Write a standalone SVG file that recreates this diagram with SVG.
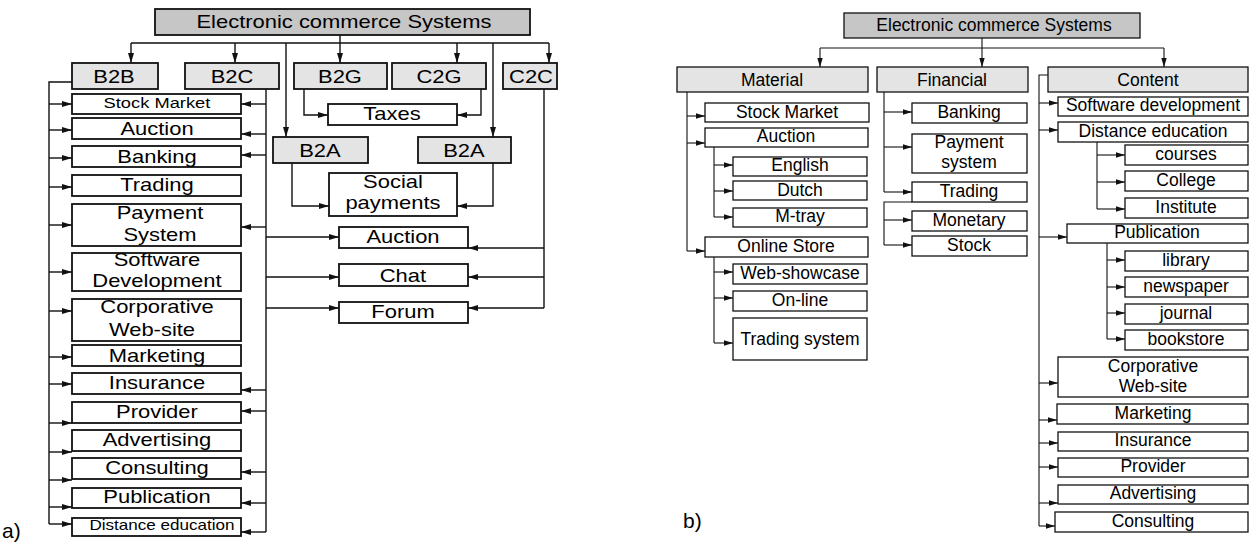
<svg xmlns="http://www.w3.org/2000/svg" width="1252" height="544" viewBox="0 0 1252 544">
<style>
text{font-family:"Liberation Sans",Arial,sans-serif;fill:#000}
.A rect{stroke:#111;stroke-width:1.8}
.A text{font-size:18px;text-anchor:middle;transform-box:fill-box;transform-origin:center;transform:scaleX(1.22)}
.B rect{stroke:#111;stroke-width:1.3}
.B text{font-size:17.5px;text-anchor:middle}
.w{fill:#fff}
.h{fill:#e4e4e4}
.t{fill:#c6c6c6}
.ln path{fill:none;stroke:#111;stroke-width:1.4}
.lr path{fill:none;stroke:#111;stroke-width:1.1}
.ln .m{marker-end:url(#ah)}
.lr .m{marker-end:url(#as)}
.lab{font-size:21px}
</style>
<defs>
<marker id="ah" markerWidth="10" markerHeight="6" refX="10" refY="3" orient="auto" markerUnits="userSpaceOnUse"><path d="M0,0 L10,3 L0,6 z" fill="#111"/></marker>
<marker id="as" markerWidth="9" markerHeight="6" refX="9" refY="3" orient="auto" markerUnits="userSpaceOnUse"><path d="M0,0.3 L9,3 L0,5.7 z" fill="#111"/></marker>
</defs>
<rect width="1252" height="544" fill="#fff"/>

<!-- ===== Diagram a) ===== -->
<g class="ln" id="a-connectors">
<path d="M340,35 V43 M131,43 H549"/>
<path class="m" d="M131,43 V63"/><path class="m" d="M235,43 V63"/><path class="m" d="M340,43 V63"/><path class="m" d="M457,43 V63"/><path class="m" d="M549,43 V63"/>
<path class="m" d="M286,43 V137"/><path class="m" d="M493,43 V137"/>
<path d="M72,82 H49 V524"/>
<path d="M266,89 V532"/>
<path class="m" d="M304,89 V115 H328"/><path class="m" d="M481,89 V115 H457"/>
<path class="m" d="M292,163 V206 H329"/><path class="m" d="M493,163 V206 H457"/>
<path d="M544,89 V308"/>
<path class="m" d="M266,237 H339"/><path class="m" d="M266,277 H339"/><path class="m" d="M266,308 H339"/>
<path class="m" d="M544,248 H468"/><path class="m" d="M544,277 H468"/><path class="m" d="M544,308 H468"/>
<path class="m" d="M49,104 H72"/><path class="m" d="M49,130 H72"/><path class="m" d="M49,158 H72"/><path class="m" d="M49,187 H72"/><path class="m" d="M49,225 H72"/><path class="m" d="M49,272 H72"/><path class="m" d="M49,311 H72"/><path class="m" d="M49,357 H72"/><path class="m" d="M49,384 H72"/><path class="m" d="M49,423 H72"/><path class="m" d="M49,452 H72"/><path class="m" d="M49,480 H72"/><path class="m" d="M49,507 H72"/><path class="m" d="M49,524 H72"/>
<path class="m" d="M266,104 H241"/><path class="m" d="M266,134 H241"/><path class="m" d="M266,155 H241"/><path class="m" d="M266,227 H241"/><path class="m" d="M266,390 H241"/><path class="m" d="M266,411 H241"/><path class="m" d="M266,472 H241"/><path class="m" d="M266,503 H241"/><path class="m" d="M266,532 H241"/>
</g>
<g class="A">
<g id="a-root"><rect class="t" x="155" y="9" width="375" height="26"/><text x="344" y="28">Electronic commerce Systems</text></g>
<g id="a-b2b"><rect class="h" x="72" y="63" width="86" height="26"/><text x="114" y="83">B2B</text></g>
<g id="a-b2c"><rect class="h" x="185" y="63" width="94" height="26"/><text x="232" y="83">B2C</text></g>
<g id="a-b2g"><rect class="h" x="294" y="63" width="93" height="26"/><text x="340" y="83">B2G</text></g>
<g id="a-c2g"><rect class="h" x="392" y="63" width="94" height="26"/><text x="439" y="83">C2G</text></g>
<g id="a-c2c"><rect class="h" x="503" y="63" width="54" height="26"/><text x="531" y="83">C2C</text></g>
<g id="a-b2a1"><rect class="h" x="273" y="137" width="95" height="26"/><text x="320" y="157">B2A</text></g>
<g id="a-b2a2"><rect class="h" x="418" y="137" width="93" height="26"/><text x="464" y="157">B2A</text></g>
<g id="a-taxes"><rect class="w" x="328" y="104" width="129" height="21"/><text x="392" y="120">Taxes</text></g>
<g id="a-social"><rect class="w" x="329" y="173" width="128" height="43"/><text x="393" y="188">Social</text><text x="393" y="209">payments</text></g>
<g id="a-auction2"><rect class="w" x="339" y="227" width="129" height="21"/><text x="403" y="243">Auction</text></g>
<g id="a-chat"><rect class="w" x="339" y="264" width="129" height="22"/><text x="403" y="282">Chat</text></g>
<g id="a-forum"><rect class="w" x="339" y="302" width="129" height="21"/><text x="403" y="318">Forum</text></g>
<g id="a-stock"><rect class="w" x="72" y="94" width="169" height="20"/><text x="157" y="108" style="font-size:15px">Stock Market</text></g>
<g id="a-auction"><rect class="w" x="72" y="118" width="169" height="21"/><text x="157" y="135">Auction</text></g>
<g id="a-banking"><rect class="w" x="72" y="146" width="169" height="21"/><text x="157" y="163">Banking</text></g>
<g id="a-trading"><rect class="w" x="72" y="175" width="169" height="21"/><text x="157" y="191">Trading</text></g>
<g id="a-payment"><rect class="w" x="72" y="204" width="169" height="42"/><text x="160" y="219">Payment</text><text x="160" y="241">System</text></g>
<g id="a-software"><rect class="w" x="72" y="253" width="169" height="38"/><text x="157" y="266">Software</text><text x="157" y="287">Development</text></g>
<g id="a-corp"><rect class="w" x="72" y="299" width="169" height="42"/><text x="157" y="313">Corporative</text><text x="152" y="336">Web-site</text></g>
<g id="a-marketing"><rect class="w" x="72" y="345" width="169" height="21"/><text x="157" y="362">Marketing</text></g>
<g id="a-insurance"><rect class="w" x="72" y="373" width="169" height="21"/><text x="157" y="389">Insurance</text></g>
<g id="a-provider"><rect class="w" x="72" y="402" width="169" height="21"/><text x="157" y="418">Provider</text></g>
<g id="a-advertising"><rect class="w" x="72" y="430" width="169" height="21"/><text x="157" y="446">Advertising</text></g>
<g id="a-consulting"><rect class="w" x="72" y="458" width="169" height="21"/><text x="157" y="474">Consulting</text></g>
<g id="a-publication"><rect class="w" x="72" y="488" width="169" height="20"/><text x="157" y="503">Publication</text></g>
<g id="a-distance"><rect class="w" x="72" y="518" width="169" height="18"/><text x="162" y="530" style="font-size:14px">Distance education</text></g>
</g>
<text class="lab" x="2" y="538">a)</text>

<!-- ===== Diagram b) ===== -->
<g class="lr" id="b-connectors">
<path d="M982,38 V48 M820,48 H1164"/>
<path class="m" d="M820,48 V67"/><path class="m" d="M982,48 V67"/><path class="m" d="M1164,48 V67"/>
<path d="M687,92 V251 M714,147 V217 M714,257 V343 M884,92 V192 M912,202 H884 V245 M1048,75 H1039 V526 M1097,142 V209 M1107,243 V339"/>
<path class="m" d="M687,116 H705"/><path class="m" d="M687,143 H705"/><path class="m" d="M687,251 H705"/>
<path class="m" d="M714,165 H733"/><path class="m" d="M714,191 H733"/><path class="m" d="M714,217 H733"/>
<path class="m" d="M714,272 H733"/><path class="m" d="M714,298 H733"/><path class="m" d="M714,343 H733"/>
<path class="m" d="M884,112 H912"/><path class="m" d="M884,147 H912"/><path class="m" d="M884,192 H912"/>
<path class="m" d="M884,220 H912"/><path class="m" d="M884,245 H912"/>
<path class="m" d="M1039,103 H1058"/><path class="m" d="M1039,130 H1058"/><path class="m" d="M1039,237 H1067"/>
<path class="m" d="M1097,155 H1125"/><path class="m" d="M1097,182 H1125"/><path class="m" d="M1097,209 H1125"/>
<path class="m" d="M1107,260 H1125"/><path class="m" d="M1107,287 H1125"/><path class="m" d="M1107,313 H1125"/><path class="m" d="M1107,339 H1125"/>
<path class="m" d="M1039,383 H1058"/><path class="m" d="M1039,420 H1057"/><path class="m" d="M1039,443 H1058"/><path class="m" d="M1039,467 H1058"/><path class="m" d="M1039,503 H1058"/><path class="m" d="M1039,526 H1055"/>
</g>
<g class="B">
<g id="b-root"><rect class="t" x="844" y="13" width="296" height="25"/><text x="994" y="31">Electronic commerce Systems</text></g>
<g id="b-material"><rect class="h" x="677" y="67" width="191" height="25"/><text x="772" y="86">Material</text></g>
<g id="b-financial"><rect class="h" x="877" y="67" width="151" height="25"/><text x="952" y="86">Financial</text></g>
<g id="b-content"><rect class="h" x="1048" y="67" width="200" height="25"/><text x="1148" y="86">Content</text></g>
<g id="b-stock-market"><rect class="w" x="705" y="103" width="164" height="19"/><text x="787" y="118">Stock Market</text></g>
<g id="b-auction"><rect class="w" x="705" y="128" width="163" height="19"/><text x="786" y="142">Auction</text></g>
<g id="b-english"><rect class="w" x="733" y="157" width="134" height="19"/><text x="800" y="171">English</text></g>
<g id="b-dutch"><rect class="w" x="733" y="181" width="134" height="19"/><text x="800" y="196">Dutch</text></g>
<g id="b-mtray"><rect class="w" x="733" y="208" width="134" height="19"/><text x="800" y="222">M-tray</text></g>
<g id="b-online-store"><rect class="w" x="705" y="237" width="163" height="20"/><text x="786" y="252">Online Store</text></g>
<g id="b-webshowcase"><rect class="w" x="733" y="264" width="134" height="20"/><text x="800" y="279">Web-showcase</text></g>
<g id="b-online"><rect class="w" x="733" y="291" width="134" height="20"/><text x="800" y="306">On-line</text></g>
<g id="b-trading-system"><rect class="w" x="733" y="318" width="134" height="42"/><text x="800" y="345">Trading system</text></g>
<g id="b-banking"><rect class="w" x="912" y="103" width="115" height="20"/><text x="969" y="118">Banking</text></g>
<g id="b-payment"><rect class="w" x="912" y="134" width="115" height="39"/><text x="969" y="148">Payment</text><text x="969" y="168">system</text></g>
<g id="b-trading"><rect class="w" x="912" y="182" width="115" height="20"/><text x="969" y="197">Trading</text></g>
<g id="b-monetary"><rect class="w" x="912" y="211" width="115" height="20"/><text x="969" y="226">Monetary</text></g>
<g id="b-stock"><rect class="w" x="912" y="236" width="115" height="20"/><text x="969" y="251">Stock</text></g>
<g id="b-software"><rect class="w" x="1058" y="97" width="190" height="19"/><text x="1153" y="111">Software development</text></g>
<g id="b-distance"><rect class="w" x="1058" y="122" width="190" height="20"/><text x="1153" y="137">Distance education</text></g>
<g id="b-courses"><rect class="w" x="1125" y="145" width="123" height="20"/><text x="1186" y="160">courses</text></g>
<g id="b-college"><rect class="w" x="1125" y="171" width="123" height="20"/><text x="1186" y="186">College</text></g>
<g id="b-institute"><rect class="w" x="1125" y="198" width="123" height="20"/><text x="1186" y="213">Institute</text></g>
<g id="b-publication"><rect class="w" x="1067" y="224" width="181" height="19"/><text x="1157" y="238">Publication</text></g>
<g id="b-library"><rect class="w" x="1125" y="251" width="123" height="20"/><text x="1186" y="266">library</text></g>
<g id="b-newspaper"><rect class="w" x="1125" y="277" width="123" height="20"/><text x="1186" y="292">newspaper</text></g>
<g id="b-journal"><rect class="w" x="1125" y="304" width="123" height="20"/><text x="1186" y="319">journal</text></g>
<g id="b-bookstore"><rect class="w" x="1125" y="330" width="123" height="20"/><text x="1186" y="345">bookstore</text></g>
<g id="b-corp"><rect class="w" x="1058" y="357" width="190" height="40"/><text x="1153" y="372">Corporative</text><text x="1153" y="392">Web-site</text></g>
<g id="b-marketing"><rect class="w" x="1057" y="404" width="191" height="20"/><text x="1153" y="419">Marketing</text></g>
<g id="b-insurance"><rect class="w" x="1058" y="432" width="190" height="19"/><text x="1153" y="446">Insurance</text></g>
<g id="b-provider"><rect class="w" x="1058" y="458" width="190" height="19"/><text x="1153" y="472">Provider</text></g>
<g id="b-advertising"><rect class="w" x="1058" y="485" width="190" height="19"/><text x="1153" y="499">Advertising</text></g>
<g id="b-consulting"><rect class="w" x="1055" y="512" width="193" height="20"/><text x="1153" y="527">Consulting</text></g>
</g>
<text class="lab" x="683" y="528">b)</text>
</svg>
